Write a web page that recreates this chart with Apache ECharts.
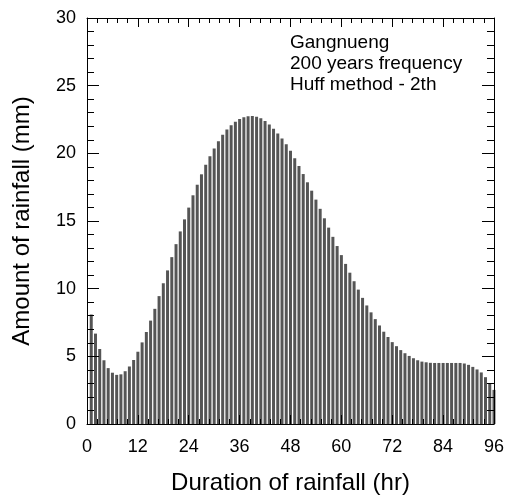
<!DOCTYPE html>
<html>
<head>
<meta charset="utf-8">
<script src="https://cdn.jsdelivr.net/npm/echarts@6/dist/echarts.min.js"></script>
<style>
  html, body { margin: 0; padding: 0; background: #fff; }
  #chart { width: 507px; height: 500px; }
</style>
</head>
<body>
<div id="chart"></div>
<script>
// hours of the storm (bar positions)
const hours = [
  1, 2, 3, 4, 5, 6, 7, 8, 9, 10, 11, 12, 13, 14, 15, 16, 17, 18, 19, 20,
  21, 22, 23, 24, 25, 26, 27, 28, 29, 30, 31, 32, 33, 34, 35, 36, 37, 38, 39, 40,
  41, 42, 43, 44, 45, 46, 47, 48, 49, 50, 51, 52, 53, 54, 55, 56, 57, 58, 59, 60,
  61, 62, 63, 64, 65, 66, 67, 68, 69, 70, 71, 72, 73, 74, 75, 76, 77, 78, 79, 80,
  81, 82, 83, 84, 85, 86, 87, 88, 89, 90, 91, 92, 93, 94, 95, 96
];

// rainfall per hour (mm)
const rainfall = [
  8.09, 6.68, 5.54, 4.71, 4.13, 3.79, 3.63, 3.67, 3.9, 4.25,
  4.73, 5.34, 6.03, 6.8, 7.64, 8.51, 9.45, 10.4, 11.35, 12.33,
  13.29, 14.23, 15.12, 15.99, 16.9, 17.68, 18.45, 19.16, 19.79, 20.36,
  20.9, 21.38, 21.76, 22.08, 22.34, 22.54, 22.67, 22.74, 22.76, 22.71,
  22.59, 22.38, 22.13, 21.82, 21.47, 21.1, 20.68, 20.19, 19.64, 19.06,
  18.47, 17.86, 17.24, 16.58, 15.9, 15.2, 14.51, 13.83, 13.15, 12.48,
  11.83, 11.18, 10.55, 9.93, 9.32, 8.76, 8.25, 7.75, 7.28, 6.82,
  6.43, 6.05, 5.75, 5.46, 5.23, 5.03, 4.86, 4.71, 4.61, 4.56,
  4.52, 4.51, 4.51, 4.51, 4.51, 4.51, 4.51, 4.51, 4.47, 4.37,
  4.22, 4.03, 3.81, 3.46, 3.02, 2.52
];

const noteLines = ['Gangnueng', '200 years frequency', 'Huff method - 2th'];

const FONT = 'Arial, "Liberation Sans", sans-serif';

const chart = echarts.init(document.getElementById('chart'));

// shared look for the frame axes
const frameLine = { show: true, onZero: false, lineStyle: { color: '#000', width: 1 } };

const option = {
  animation: false,
  textStyle: { fontFamily: FONT },
  title: {
    text: noteLines.join('\n'),
    left: 290,
    top: 32,
    padding: 0,
    textStyle: { fontFamily: FONT, fontSize: 19, fontWeight: 'normal', color: '#000', lineHeight: 21 }
  },
  grid: { left: 87, right: 12, top: 18, bottom: 74 },
  xAxis: [
    {
      type: 'value', min: 0, max: 96, interval: 12, z: 5,
      name: 'Duration of rainfall (hr)', nameLocation: 'middle', nameGap: 47,
      nameTextStyle: { fontFamily: FONT, fontSize: 24, color: '#000' },
      axisLine: frameLine,
      axisTick: { show: true, inside: true, length: 9, lineStyle: { color: '#000' } },
      minorTick: { show: true, splitNumber: 5, length: 5, lineStyle: { color: '#000' } },
      axisLabel: { fontFamily: FONT, fontSize: 18, color: '#000', margin: 14 },
      splitLine: { show: false }
    },
    {
      type: 'value', min: 0, max: 96, interval: 12, position: 'top', z: 5,
      axisLine: frameLine,
      axisTick: { show: true, inside: true, length: 9, lineStyle: { color: '#000' } },
      minorTick: { show: true, splitNumber: 5, length: 5, lineStyle: { color: '#000' } },
      axisLabel: { show: false },
      splitLine: { show: false }
    }
  ],
  yAxis: [
    {
      type: 'value', min: 0, max: 30, interval: 5, z: 5,
      name: 'Amount of rainfall (mm)', nameLocation: 'middle', nameGap: 53,
      nameTextStyle: { fontFamily: FONT, fontSize: 24, color: '#000' },
      axisLine: frameLine,
      axisTick: { show: true, inside: true, length: 12, lineStyle: { color: '#000' } },
      minorTick: { show: true, splitNumber: 5, length: 7, lineStyle: { color: '#000' } },
      axisLabel: { fontFamily: FONT, fontSize: 18, color: '#000', margin: 11 },
      splitLine: { show: false }
    },
    {
      type: 'value', min: 0, max: 30, interval: 5, position: 'right', z: 5,
      axisLine: frameLine,
      axisTick: { show: true, inside: true, length: 12, lineStyle: { color: '#000' } },
      minorTick: { show: true, splitNumber: 5, length: 7, lineStyle: { color: '#000' } },
      axisLabel: { show: false },
      splitLine: { show: false }
    }
  ],
  series: [{
    type: 'bar',
    xAxisIndex: 0,
    yAxisIndex: 0,
    barWidth: 3,
    clip: true,
    itemStyle: { color: '#555555' },
    data: hours.map((h, i) => [h, rainfall[i]])
  }]
};

chart.setOption(option);
</script>
</body>
</html>
